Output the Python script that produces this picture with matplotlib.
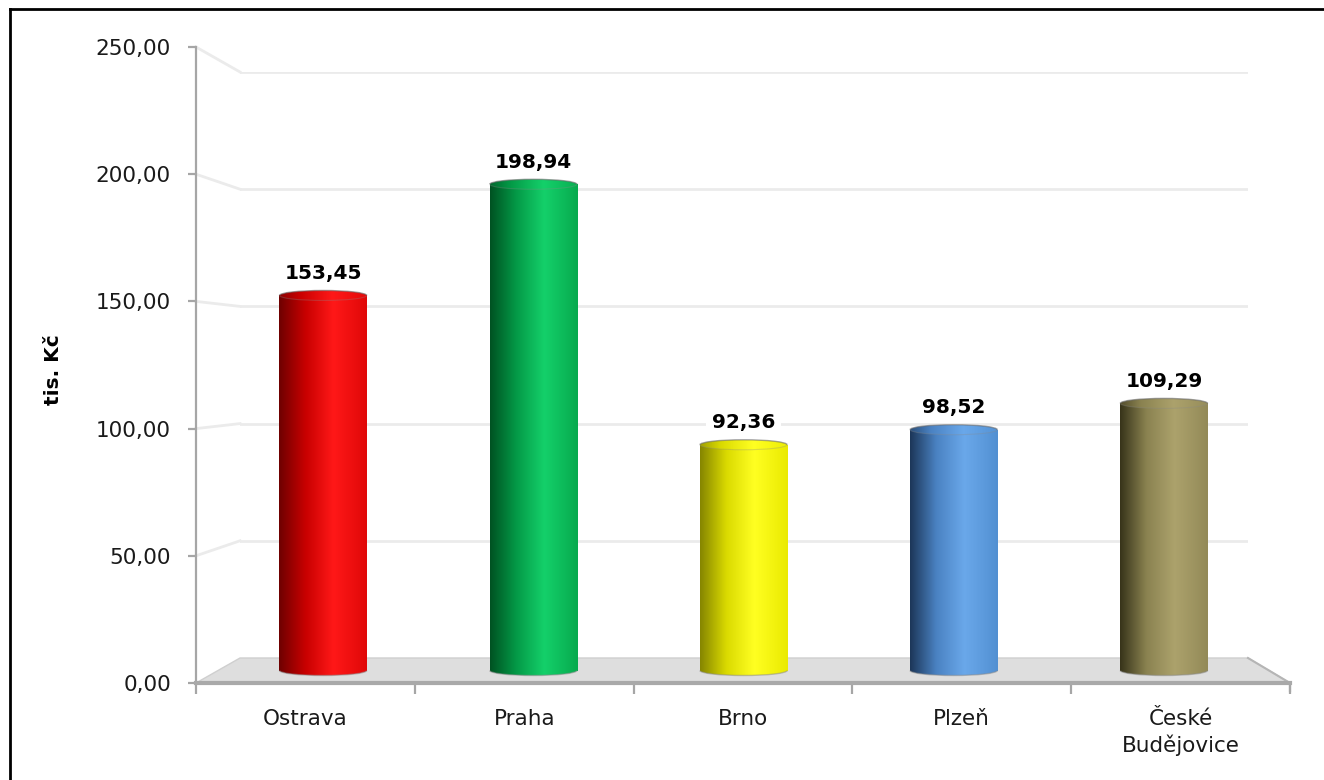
import matplotlib
matplotlib.use('Agg')
import matplotlib.pyplot as plt
import numpy as np
from matplotlib.colors import LinearSegmentedColormap
from matplotlib.patches import Ellipse, Polygon, Arc
from matplotlib.lines import Line2D
from matplotlib.ticker import FixedLocator, NullFormatter

# ---- data ----
categories = ['Ostrava', 'Praha', 'Brno', 'Plzeň', 'České\nBudějovice']
values = [153.45, 198.94, 92.36, 98.52, 109.29]
yticks = [0, 50, 100, 150, 200, 250]
ylabel = 'tis. Kč'

# ---- styles ----
dark_cols = ['#6e0000', '#005222', '#858500', '#1c3658', '#37331a']
mid_cols = ['#c80000', '#049a47', '#dada00', '#4a82c2', '#8a8250']
bright_cols = ['#ff1818', '#14d06a', '#ffff22', '#6aa8ea', '#aca26c']
right_cols = ['#e00808', '#07aa4e', '#eaea00', '#5290d2', '#938a58']

plt.rcParams['font.family'] = ['DejaVu Sans']

W, H = 1324, 780
PPU = 611 / 250  # pixels per unit at mid depth
fig = plt.figure(figsize=(W / 100, H / 100), dpi=100)


def px_axes(x0, y0, x1, y1, z):
    ax = fig.add_axes([x0 / W, 1 - y1 / H, (x1 - x0) / W, (y1 - y0) / H], zorder=z)
    ax.patch.set_visible(False)
    return ax


n = len(categories)
axb = px_axes(240, 72, 1248, 658, 0)      # back wall
axf = px_axes(196, 47, 1290, 683, 1)      # front axes (ticks / labels)
ylow = -10
axm = px_axes(218, 59.5, 1269, 670.5 - ylow * PPU, 2)  # mid-depth plane for cylinders

for ax in (axb, axf):
    ax.set_xlim(0, n)
    ax.set_ylim(0, 250)

# back wall gridlines
axb.set_axis_off()
for v in yticks[1:]:
    axb.axhline(v, color='#ebebeb', lw=2)

# front axes
for s in ('top', 'right'):
    axf.spines[s].set_visible(False)
axf.spines['left'].set_color('#a6a6a6')
axf.spines['left'].set_linewidth(1.6)
axf.spines['bottom'].set_color('#a9a9a9')
axf.spines['bottom'].set_linewidth(3)
axf.set_yticks(yticks)
axf.set_yticklabels([f'{v:.2f}'.replace('.', ',') for v in yticks], fontsize=15.5,
                    color='#1a1a1a')
axf.tick_params(axis='y', direction='out', length=6, color='#a6a6a6', width=1.6, pad=12)
axf.set_xticks(np.arange(n) + 0.5)
axf.set_xticklabels(categories, fontsize=15.5, linespacing=1.3, color='#1a1a1a')
axf.tick_params(axis='x', which='major', length=0, pad=19)
axf.xaxis.set_minor_locator(FixedLocator(np.arange(n + 1)))
axf.xaxis.set_minor_formatter(NullFormatter())
axf.tick_params(axis='x', which='minor', direction='out', length=8, color='#a6a6a6', width=1.6)
axf.set_ylabel(ylabel, fontsize=14.5, fontweight='bold')
axf.yaxis.set_label_coords((63 - 196) / 1094, (683 - 370) / 636)

# floor and side-wall diagonals (from the axes transforms)
inv = fig.transFigure.inverted()
f0 = inv.transform(axf.transData.transform((0, 0)))
f1 = inv.transform(axf.transData.transform((n, 0)))
b0 = inv.transform(axb.transData.transform((0, 0)))
b1 = inv.transform(axb.transData.transform((n, 0)))
floor = Polygon([f0, b0, b1, f1], closed=True, transform=fig.transFigure,
                facecolor='#dedede', edgecolor='#cfcfcf', lw=1, zorder=0.5)
fig.patches.append(floor)
fig.add_artist(Line2D([b1[0], f1[0]], [b1[1], f1[1]], transform=fig.transFigure,
                      color='#b5b5b5', lw=1.5, zorder=0.6))
fig.add_artist(Line2D([f1[0], f1[0]], [f1[1], f1[1] - 8 / H], transform=fig.transFigure,
                      color='#a6a6a6', lw=1.6, zorder=0.6))
for v in yticks[1:]:
    p = inv.transform(axf.transData.transform((0, v)))
    q = inv.transform(axb.transData.transform((0, v)))
    fig.add_artist(Line2D([p[0], q[0]], [p[1], q[1]], transform=fig.transFigure,
                          color='#ebebeb', lw=2, zorder=0.4))

# cylinders
axm.set_axis_off()
bw = 0.415
eh = 10 / PPU
grad = np.linspace(0, 1, 256).reshape(1, -1)
bars = axm.bar(np.arange(n) + 0.5, values, width=bw, color='none', edgecolor='none')
for i, (rect, v) in enumerate(zip(bars, values)):
    xc = i + 0.5
    x0 = xc - bw / 2
    cmap = LinearSegmentedColormap.from_list(
        f'c{i}', [(0, dark_cols[i]), (0.3, mid_cols[i]), (0.62, bright_cols[i]), (1, right_cols[i])])
    im = axm.imshow(grad, cmap=cmap, extent=[x0, x0 + bw, 0, v], aspect='auto', zorder=3)
    im.set_clip_path(rect)
    bot = Ellipse((xc, 0), bw, eh, transform=axm.transData)
    im2 = axm.imshow(grad, cmap=cmap, extent=[x0, x0 + bw, -eh / 2 - 1, 0.5], aspect='auto', zorder=3)
    im2.set_clip_path(bot)
    axm.add_patch(Arc((xc, 0), bw, eh, theta1=180, theta2=360, edgecolor='#8a8a8a',
                      lw=1.0, alpha=0.5, zorder=3.5))
    top = Ellipse((xc, v), bw, eh, transform=axm.transData)
    im3 = axm.imshow(grad * 0.85 + 0.1, cmap=cmap, vmin=0, vmax=1,
                     extent=[x0, x0 + bw, v - eh / 2, v + eh / 2], aspect='auto', zorder=4)
    im3.set_clip_path(top)
    axm.add_patch(Arc((xc, v), bw, eh, theta1=0, theta2=180, edgecolor='#6a6a6a',
                      lw=1.0, alpha=0.6, zorder=5))
    axm.add_patch(Arc((xc, v), bw, eh, theta1=180, theta2=360, edgecolor='#8a8a8a',
                      lw=0.8, alpha=0.3, zorder=5))
    axm.annotate(f'{v:.2f}'.replace('.', ','), (xc, v), xytext=(0, 9),
                 textcoords='offset points', ha='center', va='bottom',
                 fontsize=14.5, fontweight='bold', zorder=6,
                 bbox=dict(boxstyle='square,pad=0.3', fc='white', ec='none'))
axm.set_xlim(0, n)
axm.set_ylim(ylow, 250)

# outer frame (left and top edges visible)
fig.add_artist(Line2D([10 / W, 10 / W], [1 - 9 / H, 0], transform=fig.transFigure,
                      color='black', lw=2))
fig.add_artist(Line2D([10 / W, 1], [1 - 9 / H, 1 - 9 / H], transform=fig.transFigure,
                      color='black', lw=2))

fig.savefig('out.png', dpi=100, facecolor='white')
